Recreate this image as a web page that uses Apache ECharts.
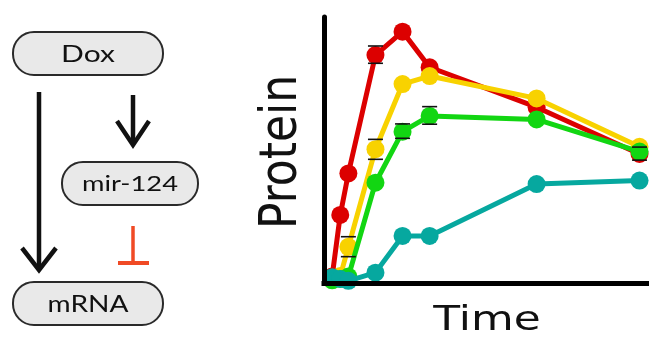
<!DOCTYPE html>
<html>
<head>
<meta charset="utf-8">
<script src="https://cdn.jsdelivr.net/npm/echarts@6/dist/echarts.min.js"></script>
<style>
html,body{margin:0;padding:0;background:#fff;}
#chart{width:649px;height:342px;}
</style>
</head>
<body>
<div id="chart"></div>
<script>
// Time points (arbitrary units)
const times = [0.3, 0.6, 0.9, 1.9, 2.9, 3.9, 7.85, 11.65];
// Protein level (0-100 scale) per series
const redValues    = [2.4, 25.6, 41.2, 85.7, 94.5, 81.1, 66.1, 48.5];
const yellowValues = [1.5, 2.6, 13.6, 50.3, 74.8, 77.8, 69.4, 51.2];
const greenValues  = [1.0, 1.5, 2.4, 37.7, 56.9, 62.8, 61.5, 49.4];
const tealValues   = [2.2, 1.5, 0.8, 3.9, 17.7, 17.7, 37.2, 38.5];
// Error bars: [time, low, high]
const errorBars = [
  [1.9, 82.6, 89.1],
  [1.9, 46.5, 54.0],
  [0.9, 9.9, 17.4],
  [2.9, 54.4, 59.8],
  [3.9, 59.7, 66.3],
  [11.65, 46.2, 51.1]
];
const seriesNames = ['red', 'yellow', 'green', 'teal'];
const seriesColors = ['#dc0000', '#f8d200', '#12d612', '#06a89f'];
const seriesValues = [redValues, yellowValues, greenValues, tealValues];
// Diagram labels
const diagramLabels = ['Dox', 'mir-124', 'mRNA'];
const axisTitles = ['Time', 'Protein'];

const chart = echarts.init(document.getElementById('chart'), null, {renderer: 'canvas'});

const lineSeries = seriesValues.map((vals, i) => ({
  name: seriesNames[i],
  type: 'line',
  data: vals.map((v, j) => [times[j], v]),
  symbol: 'circle',
  symbolSize: 18,
  showSymbol: true,
  lineStyle: {color: seriesColors[i], width: 5},
  itemStyle: {color: seriesColors[i]},
  emphasis: {disabled: true},
  clip: false,
  z: 2 + i
}));

const errSeries = {
  type: 'custom',
  data: errorBars,
  z: 8,
  silent: true,
  renderItem: function (params, api) {
    const lo = api.coord([api.value(0), api.value(1)]);
    const hi = api.coord([api.value(0), api.value(2)]);
    const hw = 7.5;
    return {
      type: 'group',
      children: [
        {type: 'line', shape: {x1: lo[0] - hw, y1: lo[1], x2: lo[0] + hw, y2: lo[1]}, style: {stroke: '#111', lineWidth: 1.6}},
        {type: 'line', shape: {x1: hi[0] - hw, y1: hi[1], x2: hi[0] + hw, y2: hi[1]}, style: {stroke: '#111', lineWidth: 1.6}}
      ]
    };
  }
};

const boxStyle = {fill: '#e9e9e9', stroke: '#2a2a2a', lineWidth: 2};
const labelFont = '24px Lato';
const arrowStyle = {stroke: '#111', lineWidth: 4.5, fill: null};

const graphics = [
  {type: 'rect', shape: {x: 13, y: 32, width: 150, height: 43, r: 21}, style: boxStyle},
  {type: 'rect', shape: {x: 62, y: 162, width: 136, height: 43, r: 21}, style: boxStyle},
  {type: 'rect', shape: {x: 13, y: 282, width: 150, height: 43, r: 21}, style: boxStyle},
  {type: 'text', x: 88, y: 54, scaleX: 1.25, style: {text: diagramLabels[0], font: labelFont, fill: '#111', align: 'center', verticalAlign: 'middle'}},
  {type: 'text', x: 130, y: 184, scaleX: 1.3, style: {text: diagramLabels[1], font: '21px Lato', fill: '#111', align: 'center', verticalAlign: 'middle'}},
  {type: 'text', x: 88, y: 304, scaleX: 1.17, style: {text: diagramLabels[2], font: labelFont, fill: '#111', align: 'center', verticalAlign: 'middle'}},
  // long arrow Dox -> mRNA
  {type: 'line', shape: {x1: 39, y1: 92, x2: 39, y2: 268}, style: arrowStyle},
  {type: 'polyline', shape: {points: [[22, 248], [39, 270], [56, 248]]}, style: arrowStyle},
  // short arrow Dox -> mir-124
  {type: 'line', shape: {x1: 133, y1: 95, x2: 133, y2: 143}, style: arrowStyle},
  {type: 'polyline', shape: {points: [[117, 121], [133, 145], [149, 121]]}, style: arrowStyle},
  // inhibition mir-124 -| mRNA
  {type: 'line', shape: {x1: 133, y1: 226, x2: 133, y2: 263}, style: {stroke: '#f04a25', lineWidth: 3.5}},
  {type: 'line', shape: {x1: 118, y1: 263, x2: 149, y2: 263}, style: {stroke: '#f04a25', lineWidth: 4}},
  // axis titles
  {type: 'text', x: 487, y: 321, scaleX: 1.29, style: {text: axisTitles[0], font: '34px "DejaVu Sans"', fill: '#111', align: 'center', verticalAlign: 'middle'}},
  {type: 'text', x: 283, y: 152, rotation: Math.PI / 2, scaleY: 1.16, style: {text: axisTitles[1], font: '44px "DejaVu Sans"', fill: '#111', align: 'center', verticalAlign: 'middle'}}
];

chart.setOption({
  animation: false,
  backgroundColor: '#fff',
  grid: {left: 324, right: 0, top: 17, bottom: 59, containLabel: false},
  xAxis: {
    type: 'value', min: 0, max: 12, z: 10,
    axisLine: {show: true, onZero: false, lineStyle: {color: '#000', width: 5, cap: 'square'}},
    axisTick: {show: false}, axisLabel: {show: false}, splitLine: {show: false}
  },
  yAxis: {
    type: 'value', min: 0, max: 100, z: 10,
    axisLine: {show: true, onZero: false, lineStyle: {color: '#000', width: 5}},
    axisTick: {show: false}, axisLabel: {show: false}, splitLine: {show: false}
  },
  graphic: graphics,
  series: lineSeries.concat([errSeries])
});
</script>
</body>
</html>
